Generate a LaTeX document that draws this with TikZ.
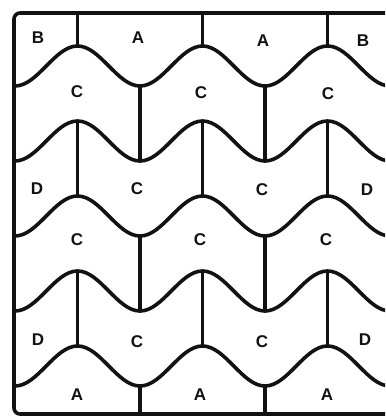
\documentclass[tikz,border=0pt]{standalone}
\usepackage{fontspec}
\setsansfont{Liberation Sans}
\usetikzlibrary{positioning}
\definecolor{TileInk}{HTML}{121212}
\tikzset{
  wall/.style={TileInk,line width=3.6pt},
  tile/.style={TileInk,font=\sffamily\bfseries\fontsize{17}{17}\selectfont,inner sep=0pt}
}

\begin{document}
\begin{tikzpicture}[x=1pt,y=-1pt,line cap=round,line join=round]
  \useasboundingbox (0,0) rectangle (385,417);
  \begin{scope}
    \clip (0,0) rectangle (385,417);
    \draw[wall,rounded corners=6pt] (14,13) rectangle (420,414);
    % five wavy seams, period 125, troughs at x = 15 + 125k
    \foreach \m in {66,141,216,291,366}
      \draw[wall] (14,{\m+20}) -- (15,{\m+20})
        \foreach \k in {1,2,3}{ cos ++(31.25,-20) sin ++(31.25,-20) cos ++(31.25,20) sin ++(31.25,20) };
    % straight seams from crest to crest and from trough to trough
    \foreach \a/\b in {13/46,121/196,271/346}
      \foreach \x in {77.5,202.5,327.5}
        \draw[wall] (\x,\a) -- (\x,\b);
    \foreach \a/\b in {86/161,236/311,386/414}
      \foreach \x in {140,265}
        \draw[wall] (\x,\a) -- (\x,\b);
  \end{scope}
  \foreach \n/\x/\y/\t in {topB/38/38/B,topA/138/38/A,topAA/263/41/A,topBB/363/41/B,
      rowCa/77/92/C,rowCb/201/93/C,rowCc/328/94/C,
      midDa/37/189/D,midCa/137/189/C,midCb/262/190/C,midDb/367/190/D,
      lowCa/77/240/C,lowCb/200/240/C,lowCc/326/240/C,
      botDa/38/340/D,botCa/137/342/C,botCb/262/342/C,botDb/365/340/D,
      endAa/77/395/A,endAb/200/395/A,endAc/327/395/A}
    \node[tile] (\n) at (\x,\y) {\t};
\end{tikzpicture}
\end{document}
